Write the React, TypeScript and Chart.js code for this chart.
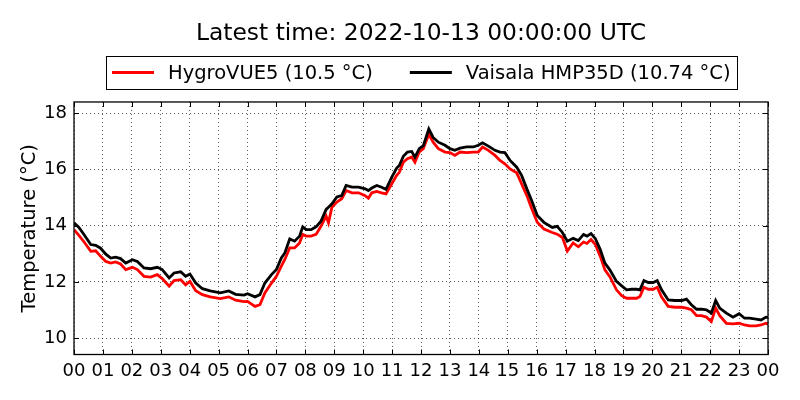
import React, { useEffect, useRef } from "react";
import { Chart, registerables } from "chart.js";

Chart.register(...registerables);

// hours after 2022-10-12 00:00 UTC
const hours = [
  0.0, 0.17, 0.35, 0.58, 0.75, 0.92, 1.1, 1.27, 1.44, 1.61, 1.79, 2.02, 2.19, 2.42, 2.65, 2.88, 3.05,
  3.29, 3.46, 3.69, 3.86, 4.01, 4.21, 4.44,
  4.71, 5.06, 5.35, 5.59, 5.88, 6.0, 6.26, 6.43, 6.6, 6.83, 7.0, 7.17, 7.29, 7.46, 7.63, 7.8, 7.91,
  8.03, 8.2, 8.37, 8.54, 8.72, 8.8,
  8.92, 9.09, 9.26, 9.41, 9.61, 9.84, 10.07, 10.18, 10.3, 10.47, 10.64, 10.79, 10.99, 11.16, 11.25,
  11.39, 11.53, 11.68, 11.79, 11.94, 12.08, 12.27,
  12.42, 12.6, 12.83, 13.0, 13.17, 13.35, 13.58, 13.81, 13.98, 14.13, 14.33, 14.56, 14.73, 14.9, 15.08,
  15.31, 15.48, 15.66, 15.83, 16.02, 16.25, 16.54, 16.71, 16.89, 17.06, 17.26, 17.44, 17.62, 17.74,
  17.88, 18.03, 18.2, 18.36, 18.53, 18.76, 18.94, 19.11, 19.28, 19.46, 19.57, 19.71, 19.86, 20.03,
  20.17, 20.32, 20.55, 20.78, 21.01, 21.18, 21.35, 21.53, 21.7, 21.87, 22.04, 22.19, 22.33, 22.56,
  22.79, 23.0, 23.19, 23.36, 23.59, 23.76, 23.93, 24.0,
];

const hygroVue5 = [
  13.86, 13.66, 13.42, 13.09, 13.11, 12.91, 12.73, 12.67, 12.71, 12.64, 12.44, 12.52, 12.44, 12.2,
  12.17, 12.26, 12.12, 11.85, 12.05, 12.08, 11.9, 12.02, 11.69, 11.55,
  11.47, 11.41, 11.47, 11.35, 11.3, 11.31, 11.13, 11.19, 11.61, 11.96, 12.2, 12.56, 12.8, 13.21, 13.21,
  13.39, 13.69, 13.63, 13.63, 13.69, 13.98, 14.34, 14.1,
  14.66, 14.84, 14.96, 15.25, 15.17, 15.17, 15.07, 14.98, 15.17, 15.22, 15.17, 15.13, 15.49, 15.79,
  15.9, 16.26, 16.38, 16.44, 16.26, 16.62, 16.74, 17.25,
  16.97, 16.74, 16.62, 16.6, 16.5, 16.62, 16.6, 16.62, 16.62, 16.8, 16.68, 16.5, 16.32, 16.2, 16.02,
  15.88, 15.49, 15.07, 14.6, 14.12, 13.88, 13.76, 13.7, 13.58, 13.1, 13.39, 13.25, 13.42, 13.37, 13.51,
  13.33, 12.91, 12.43, 12.19, 11.72, 11.51, 11.42, 11.42, 11.42, 11.48, 11.81, 11.74, 11.74, 11.81,
  11.46, 11.13, 11.1, 11.1, 11.07, 11.01, 10.8, 10.8, 10.75, 10.59, 11.07, 10.8, 10.53, 10.51, 10.53,
  10.47, 10.44, 10.44, 10.47, 10.53, 10.5,
];

const vaisalaHmp35d = [
  14.1, 13.94, 13.68, 13.33, 13.3, 13.2, 12.99, 12.85, 12.88, 12.83, 12.67, 12.79, 12.73, 12.5, 12.47,
  12.52, 12.44, 12.14, 12.32, 12.36, 12.2, 12.28, 11.96, 11.76,
  11.68, 11.61, 11.68, 11.56, 11.53, 11.58, 11.47, 11.55, 11.96, 12.26, 12.44, 12.85, 13.03, 13.53,
  13.45, 13.63, 13.96, 13.86, 13.86, 13.96, 14.16, 14.58, 14.66,
  14.78, 15.02, 15.07, 15.43, 15.37, 15.37, 15.31, 15.25, 15.34, 15.43, 15.37, 15.29, 15.73, 16.05,
  16.14, 16.47, 16.62, 16.64, 16.44, 16.74, 16.85, 17.44,
  17.14, 16.97, 16.86, 16.74, 16.68, 16.76, 16.8, 16.8, 16.86, 16.95, 16.83, 16.68, 16.62, 16.6, 16.32,
  16.08, 15.79, 15.31, 14.89, 14.36, 14.12, 13.94, 13.98, 13.76, 13.45, 13.55, 13.47, 13.69, 13.63,
  13.72, 13.54, 13.15, 12.67, 12.43, 12.02, 11.86, 11.72, 11.74, 11.74, 11.72, 12.05, 11.98, 11.98,
  12.05, 11.72, 11.36, 11.34, 11.34, 11.39, 11.19, 11.03, 11.03, 11.01, 10.89, 11.34, 11.07, 10.89,
  10.75, 10.87, 10.71, 10.71, 10.68, 10.65, 10.75, 10.74,
];

const hourLabels = [
  "00", "01", "02", "03", "04", "05", "06", "07", "08", "09", "10", "11", "12",
  "13", "14", "15", "16", "17", "18", "19", "20", "21", "22", "23", "00",
];
const tempTicks = [10, 12, 14, 16, 18];

const FONT = "'DejaVu Sans', sans-serif";

// matplotlib-like frame with inward ticks on all four sides
const frameAndTicks = {
  id: "frameAndTicks",
  afterDatasetsDraw(chart: any) {
    const { ctx, chartArea: a, scales } = chart;
    const len = 5;
    ctx.save();
    ctx.strokeStyle = "#000";
    ctx.lineWidth = 1;
    ctx.beginPath();
    scales.x.ticks.forEach((t: any) => {
      const px = Math.round(scales.x.getPixelForValue(t.value)) + 0.5;
      ctx.moveTo(px, a.bottom);
      ctx.lineTo(px, a.bottom - len);
      ctx.moveTo(px, a.top);
      ctx.lineTo(px, a.top + len);
    });
    scales.y.ticks.forEach((t: any) => {
      const py = Math.round(scales.y.getPixelForValue(t.value)) + 0.5;
      ctx.moveTo(a.left, py);
      ctx.lineTo(a.left + len, py);
      ctx.moveTo(a.right, py);
      ctx.lineTo(a.right - len, py);
    });
    ctx.stroke();
    ctx.lineWidth = 1.3;
    ctx.strokeRect(a.left, a.top, a.right - a.left, a.bottom - a.top);
    ctx.restore();
  },
};

// legend in a framed box, centred over the plot
const boxedLegend = {
  id: "boxedLegend",
  afterDraw(chart: any) {
    const { ctx, chartArea: a } = chart;
    const lineLen = 42;
    const lineGap = 14;
    const itemGap = 37;
    const padX = 6;
    const top = 56;
    const h = 33;
    ctx.save();
    ctx.font = `19.5px ${FONT}`;
    const items = chart.data.datasets.map((ds: any) => ({
      label: ds.label,
      color: ds.borderColor,
      w: ctx.measureText(ds.label).width,
    }));
    const total =
      padX * 2 +
      items.reduce((s: number, it: any) => s + lineLen + lineGap + it.w, 0) +
      itemGap * (items.length - 1);
    let x = Math.round((a.left + a.right) / 2 - total / 2);
    ctx.strokeStyle = "#000";
    ctx.lineWidth = 1;
    ctx.strokeRect(x + 0.5, top + 0.5, Math.round(total), h);
    const midY = top + h / 2;
    x += padX;
    ctx.textBaseline = "middle";
    ctx.textAlign = "left";
    items.forEach((it: any) => {
      ctx.strokeStyle = it.color;
      ctx.lineWidth = 2.8;
      ctx.beginPath();
      ctx.moveTo(x, midY);
      ctx.lineTo(x + lineLen, midY);
      ctx.stroke();
      x += lineLen + lineGap;
      ctx.fillStyle = "#000";
      ctx.fillText(it.label, x, midY + 1);
      x += it.w + itemGap;
    });
    ctx.restore();
  },
};

const TemperatureChart = () => {
  const canvasRef = useRef<HTMLCanvasElement>(null);
  const chartRef = useRef<Chart | null>(null);

  useEffect(() => {
    if (!canvasRef.current) return;
    document.body.style.margin = "0";

    chartRef.current?.destroy();

    chartRef.current = new Chart(canvasRef.current, {
      type: "line",
      data: {
        datasets: [
          {
            label: "HygroVUE5 (10.5 °C)",
            data: hours.map((h, i) => ({ x: h, y: hygroVue5[i] })),
            borderColor: "#ff0000",
            borderWidth: 2.8,
            pointRadius: 0,
            tension: 0,
            order: 2,
          },
          {
            label: "Vaisala HMP35D (10.74 °C)",
            data: hours.map((h, i) => ({ x: h, y: vaisalaHmp35d[i] })),
            borderColor: "#000000",
            borderWidth: 2.8,
            pointRadius: 0,
            tension: 0,
            order: 1,
          },
        ],
      },
      options: {
        responsive: true,
        maintainAspectRatio: false,
        animation: false,
        layout: { padding: { left: 0, right: 32, top: 0, bottom: 0 } },
        plugins: {
          legend: { display: false },
          tooltip: { enabled: false },
          title: {
            display: true,
            fullSize: false,
            text: "Latest time: 2022-10-13 00:00:00 UTC",
            color: "#000",
            font: { family: FONT, size: 23.4, weight: "normal" },
            padding: { top: 20, bottom: 53.9 },
          },
        },
        scales: {
          x: {
            type: "linear",
            min: 0,
            max: 24,
            afterBuildTicks: (scale: any) => {
              scale.ticks = hourLabels.map((_, i) => ({ value: i }));
            },
            afterFit: (scale: any) => {
              scale.height = 45.5;
            },
            ticks: {
              autoSkip: false,
              maxRotation: 0,
              padding: 6,
              color: "#000",
              font: { family: FONT, size: 18 },
              callback: (_v: any, i: number) => hourLabels[i],
            },
            grid: {
              drawTicks: false,
              color: "rgba(0,0,0,0.65)",
              lineWidth: 1,
            },
            border: { display: false, dash: [1, 3] },
          },
          y: {
            min: 9.42,
            max: 18.4,
            afterBuildTicks: (scale: any) => {
              scale.ticks = tempTicks.map((v) => ({ value: v }));
            },
            afterFit: (scale: any) => {
              scale.width = 74;
            },
            ticks: {
              padding: 7,
              color: "#000",
              font: { family: FONT, size: 18 },
              callback: (v: any) => String(v),
            },
            grid: {
              drawTicks: false,
              color: "rgba(0,0,0,0.65)",
              lineWidth: 1,
            },
            border: { display: false, dash: [1, 3] },
            title: {
              display: true,
              text: "Temperature (°C)",
              color: "#000",
              font: { family: FONT, size: 19.5 },
              padding: { top: 18, bottom: 0 },
            },
          },
        },
      },
      plugins: [frameAndTicks, boxedLegend],
    });

    return () => chartRef.current?.destroy();
  }, []);

  return (
    <div style={{ position: "relative", width: 800, height: 400 }}>
      <canvas ref={canvasRef} />
    </div>
  );
};

export default function App() {
  return <TemperatureChart />;
}
